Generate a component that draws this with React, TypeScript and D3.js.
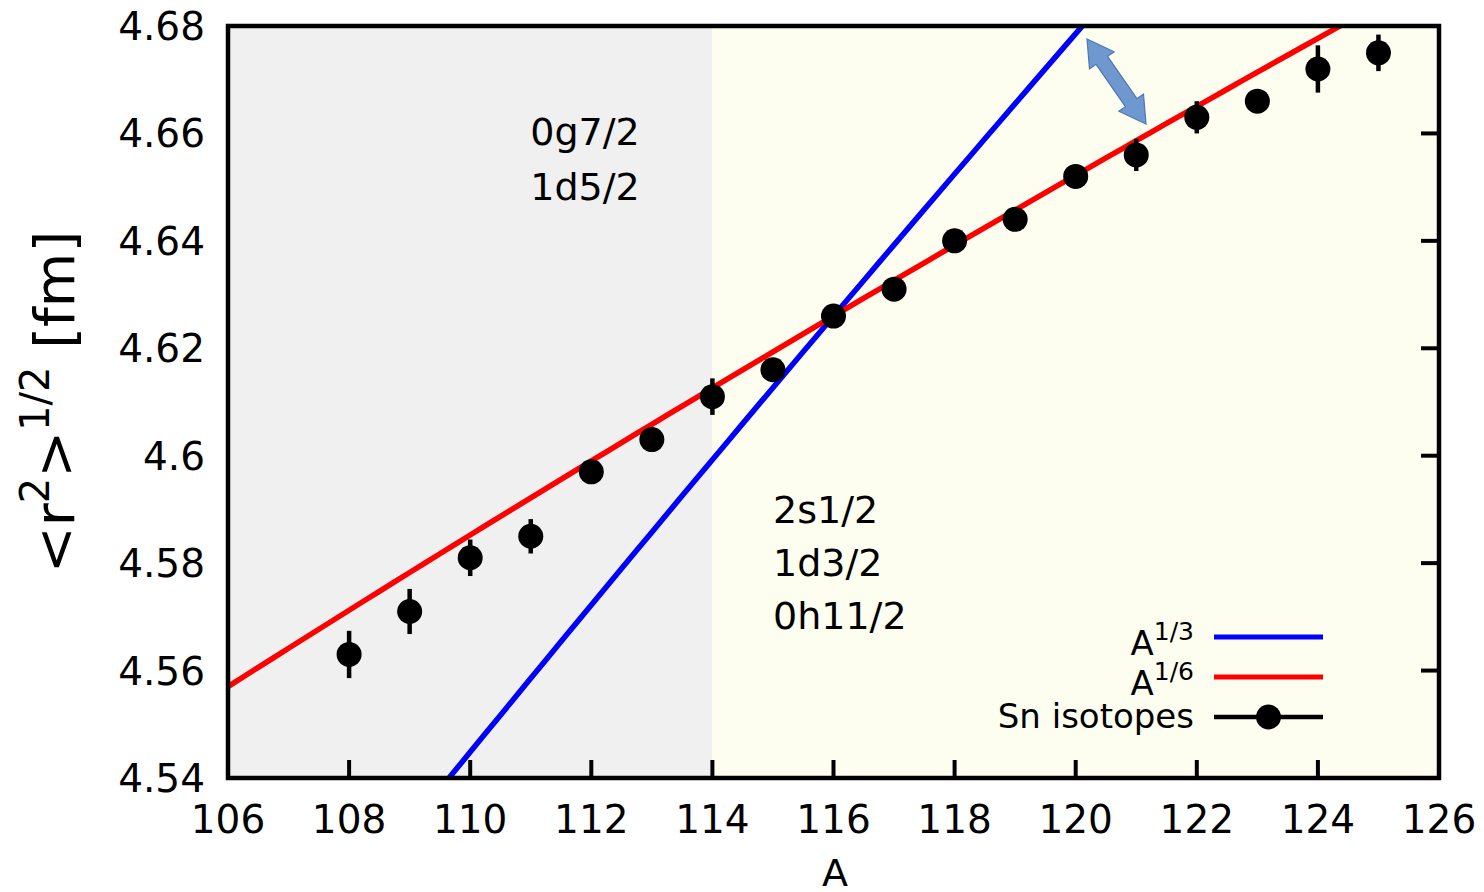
import React from "react";
import * as d3 from "d3";

// Sn isotope charge radii
const massNumbers = [108, 109, 110, 111, 112, 113, 114, 115, 116, 117, 118, 119, 120, 121, 122, 123, 124, 125];
const radii = [4.563, 4.571, 4.581, 4.585, 4.597, 4.603, 4.611, 4.616, 4.626, 4.631, 4.640, 4.644, 4.652, 4.656, 4.663, 4.666, 4.672, 4.675];
const radiusErrors = [0.0044, 0.0042, 0.0034, 0.0032, 0.0018, 0.0016, 0.0034, 0.0018, 0.0016, 0.0016, 0.0016, 0.0016, 0.0016, 0.003, 0.003, 0.0016, 0.0044, 0.0034];

// Power-law scaling curves anchored at A0 = 116
const anchorA = 116;
const anchorR = 4.626;
const exponents = [1 / 3, 1 / 6];
const curveColors = ["#0000ff", "#ff0000"];
const curveLabels = ["1/3", "1/6"];

const xTicks = [106, 108, 110, 112, 114, 116, 118, 120, 122, 124, 126];
const yTicks = [4.54, 4.56, 4.58, 4.6, 4.62, 4.64, 4.66, 4.68];

const shellBoundary = 114;
const lowerShells = ["0g7/2", "1d5/2"];
const upperShells = ["2s1/2", "1d3/2", "0h11/2"];

const W = 1484;
const H = 892;
const left = 228;
const right = 1439;
const top = 26;
const bottom = 778;
const font = "DejaVu Sans, sans-serif";

export default function App() {
  const x = d3.scaleLinear().domain([106, 126]).range([left, right]);
  const y = d3.scaleLinear().domain([4.54, 4.68]).range([bottom, top]);

  const samples = d3.range(106, 126.001, 0.25);
  const curves = exponents.map((p) =>
    d3
      .line<number>()
      .x((a) => x(a))
      .y((a) => y(anchorR * Math.pow(a / anchorA, p)))(samples)
  );

  const fmtY = (v: number) => {
    const s = d3.format(".2f")(v);
    return s.endsWith("0") ? s.slice(0, -1) : s;
  };

  // double-headed block arrow
  const arrowFrom = [1087, 39];
  const arrowTo = [1146, 124];
  const dx = arrowTo[0] - arrowFrom[0];
  const dy = arrowTo[1] - arrowFrom[1];
  const len = Math.hypot(dx, dy);
  const ang = (Math.atan2(dy, dx) * 180) / Math.PI;
  const headL = 26;
  const headW = 15;
  const shaftW = 7;
  const arrowPath = [
    [0, 0],
    [headL, -headW],
    [headL, -shaftW],
    [len - headL, -shaftW],
    [len - headL, -headW],
    [len, 0],
    [len - headL, headW],
    [len - headL, shaftW],
    [headL, shaftW],
    [headL, headW],
  ]
    .map((p, i) => `${i ? "L" : "M"}${p[0]},${p[1]}`)
    .join("") + "Z";

  const legendX1 = 1214;
  const legendX2 = 1323;
  const legendTextX = 1194;
  const legendRows = [637, 677, 717];

  return (
    <svg width={W} height={H} style={{ position: "absolute", left: 0, top: 0, background: "#fff" }} fontFamily={font}>
      <defs>
        <clipPath id="plotClip">
          <rect x={left} y={top} width={right - left} height={bottom - top} />
        </clipPath>
      </defs>

      {/* shell regions */}
      <rect x={x(106)} y={top} width={x(shellBoundary) - x(106)} height={bottom - top} fill="#f0f0f0" />
      <rect x={x(shellBoundary)} y={top} width={x(126) - x(shellBoundary)} height={bottom - top} fill="#fefef0" />

      {/* shell labels */}
      {lowerShells.map((s, i) => (
        <text key={s} x={585} y={145 + i * 55} fontSize={38} textAnchor="middle" fill="#000">
          {s}
        </text>
      ))}
      {upperShells.map((s, i) => (
        <text key={s} x={773} y={523 + i * 53} fontSize={38} fill="#000">
          {s}
        </text>
      ))}

      {/* scaling curves */}
      <g clipPath="url(#plotClip)">
        {curves.map((d, i) => (
          <path key={i} d={d ?? ""} fill="none" stroke={curveColors[i]} strokeWidth={5.5} />
        ))}
      </g>

      {/* data with error bars */}
      {massNumbers.map((a, i) => (
        <g key={a}>
          <line
            x1={x(a)}
            x2={x(a)}
            y1={y(radii[i] - radiusErrors[i])}
            y2={y(radii[i] + radiusErrors[i])}
            stroke="#000"
            strokeWidth={4.5}
          />
          <circle cx={x(a)} cy={y(radii[i])} r={12.5} fill="#000" />
        </g>
      ))}

      {/* arrow */}
      <g transform={`translate(${arrowFrom[0]},${arrowFrom[1]}) rotate(${ang})`}>
        <path d={arrowPath} fill="#6e98cf" stroke="#4d78b0" strokeWidth={1.2} />
      </g>

      {/* ticks */}
      {xTicks.map((t) => (
        <g key={t}>
          <line x1={x(t)} x2={x(t)} y1={bottom} y2={bottom - 18} stroke="#000" strokeWidth={4} />
          <text x={x(t)} y={833} fontSize={39} textAnchor="middle">
            {t}
          </text>
        </g>
      ))}
      {yTicks.map((t) => (
        <g key={t}>
          <line x1={right} x2={right - 18} y1={y(t)} y2={y(t)} stroke="#000" strokeWidth={4} />
          <text x={205} y={y(t) + 14} fontSize={39} textAnchor="end">
            {fmtY(t)}
          </text>
        </g>
      ))}

      {/* frame */}
      <rect x={left} y={top} width={right - left} height={bottom - top} fill="none" stroke="#000" strokeWidth={4.5} />

      {/* axis titles */}
      <text x={835} y={886} fontSize={38} textAnchor="middle">
        A
      </text>
      <text transform="translate(74,402) rotate(-90)" fontSize={56} textAnchor="middle">
        {"<r"}
        <tspan fontSize={40} dy={-25}>2</tspan>
        <tspan dy={25}>{">"}</tspan>
        <tspan fontSize={40} dy={-25}>1/2</tspan>
        <tspan dy={25}>{" [fm]"}</tspan>
      </text>

      {/* legend */}
      {curveLabels.map((lab, i) => (
        <g key={lab}>
          <text x={legendTextX} y={legendRows[i] + 18} fontSize={34} textAnchor="end">
            A<tspan fontSize={25} dy={-15}>{lab}</tspan>
          </text>
          <line x1={legendX1} x2={legendX2} y1={legendRows[i]} y2={legendRows[i]} stroke={curveColors[i]} strokeWidth={5} />
        </g>
      ))}
      <text x={legendTextX} y={legendRows[2] + 11} fontSize={34} textAnchor="end">
        Sn isotopes
      </text>
      <line x1={legendX1} x2={legendX2} y1={legendRows[2]} y2={legendRows[2]} stroke="#000" strokeWidth={4.5} />
      <circle cx={(legendX1 + legendX2) / 2} cy={legendRows[2]} r={12.5} fill="#000" />
    </svg>
  );
}
